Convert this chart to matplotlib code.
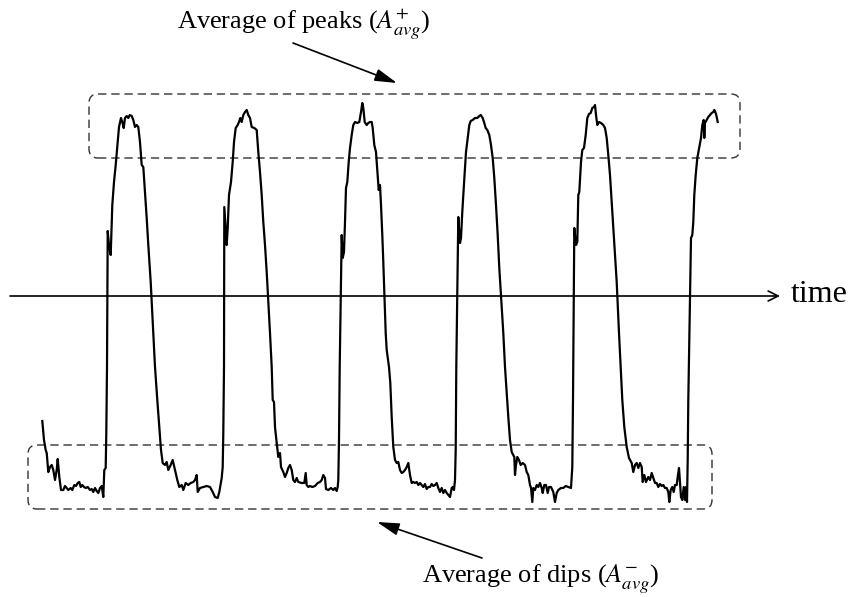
import numpy as np
import matplotlib
matplotlib.use("Agg")
import matplotlib.pyplot as plt
from matplotlib.patches import FancyBboxPatch

plt.rcParams['font.family'] = ['Liberation Serif', 'DejaVu Serif']
plt.rcParams['mathtext.fontset'] = 'stix'

# trace: time (px) and amplitude (px above the time axis)
lead_t = [42.3, 44, 45.7, 46.7, 48.3, 50, 51.7, 53.3, 55, 56.7, 57.7, 59.3, 61, 63.3, 65, 66.7,
          68.3, 70.7, 72.3, 74.3, 76, 77.7, 79.3, 80.7, 82.3, 84, 85.7, 87.7, 90, 91.7, 93.3,
          95, 96.7, 98.3, 100, 101.7, 103.3, 104.3, 105.7, 106.3, 107]
lead_a = [-125, -144, -154, -157, -176, -171, -169, -174, -184, -174, -163, -181, -194, -194, -190, -192,
          -194, -192, -194, -189, -190, -187, -186, -191, -189, -191, -192, -191, -194, -193, -196,
          -192, -195, -197, -192, -190, -201, -174, -172, -137, -71]

p1_t = [107.7, 109, 110.7, 112.3, 114, 115.7, 117.7, 119, 121, 122.3, 123.7, 125, 126.7, 128.3, 129.7,
        131.7, 133.3, 135, 136.7, 138.3, 140, 141.7, 143.3, 145, 146.7, 148.3, 150.7,
        153.3, 155, 157.3, 159.3, 161, 162.7, 165, 166.7, 168.3, 170.7, 172.7, 175, 177.3, 179.3,
        181.7, 183.3, 185.7, 188.3, 190.7, 193.3, 195, 196.7, 197.7, 200, 203.3, 206.7, 210, 212.7,
        215, 217.7, 219.3, 221.7, 222.7, 223.3, 224]
p1_a = [65, 51, 41, 91, 114, 131, 154, 169, 178, 174, 168, 178, 180, 178, 181,
        180, 176, 169, 171, 169, 154, 131, 129, 104, 78, 51, 14,
        -37, -71, -104, -131, -154, -167, -169, -166, -174, -169, -164, -174, -184, -191,
        -189, -194, -187, -189, -187, -186, -184, -179, -196, -192, -191, -190, -191, -196,
        -201, -202, -196, -182, -171, -137, -71]

p2_t = [224.3, 226.7, 227.7, 229, 231, 232.7, 234, 235.7, 237.7, 239, 240.3, 241.7, 243.3, 245, 246.7,
        248.3, 250, 251.7, 254.3, 256.7, 258.3, 260, 261.7, 263.3, 265, 266.7,
        270, 271.7, 272.7, 274, 275, 276.7, 278.3, 280, 281, 283.3, 285, 286.7, 288.3, 290, 291.7,
        293.3, 295, 296.7, 298.3, 301.7, 304.3, 305.7, 306.7, 308.3, 310, 312.3, 315, 317.7, 320,
        321.7, 323.3, 325, 326, 328.3, 331, 333.3, 335, 336.7, 337.7, 338.3, 339, 339.7]
p2_a = [89, 51, 68, 101, 114, 134, 154, 168, 171, 174, 178, 174, 181, 184, 186,
        181, 178, 169, 168, 166, 144, 124, 101, 74, 51, 24,
        -37, -71, -104, -106, -131, -147, -161, -157, -171, -176, -181, -177, -172, -169, -174,
        -184, -186, -182, -186, -187, -187, -177, -189, -191, -190, -191, -190, -187, -186,
        -184, -179, -182, -193, -194, -192, -194, -192, -195, -191, -184, -144, -71]

p3_t = [341.7, 342.7, 344, 345, 346, 347.3, 348.7, 350, 351.7, 353.3, 355, 357.3, 359.3, 361, 362.3,
        363.3, 364.7, 366.7, 368.3, 370, 371.7, 372.7, 374.3, 376, 376.7, 377.7, 378.7, 380, 381,
        382.3, 383.3,
        385.7, 386.7, 389, 390.3, 391.7, 393.3, 395, 396.7, 398.3, 400, 401.7, 403.3, 405, 406.7,
        408.3, 410, 411.7, 413.3, 415, 416.7, 418.3, 420, 421.7, 423.3, 425, 426.7, 428.3, 430,
        431.7, 433.3, 435, 436.7, 438.3, 440, 441.7, 443.3, 445, 446.7, 448.3, 450, 451.7, 452.7,
        454, 455, 455.7, 456.3]
p3_a = [61, 38, 44, 74, 108, 114, 134, 148, 161, 171, 174, 173, 174, 184, 193,
        188, 174, 171, 173, 174, 174, 168, 151, 144, 134, 121, 106, 111, 91,
        61, 34,
        -37, -54, -71, -87, -121, -151, -164, -167, -166, -174, -177, -176, -174, -171,
        -167, -179, -187, -186, -187, -186, -189, -187, -189, -191, -188, -193, -191, -191,
        -188, -190, -189, -187, -192, -196, -192, -197, -194, -197, -199, -201, -192, -191,
        -194, -184, -154, -71]

p4_t = [458.3, 460, 461, 462.3, 463.3, 465, 466, 467.7, 469.3, 470.7, 472.7, 475, 477.3, 479.3, 480.7,
        482.7, 484.3, 485.7, 487.3, 489.3, 491, 492.7, 494.3, 496, 497.7, 499.3,
        503.3, 505, 506.7, 508.3, 510, 511.7, 513.3, 514.3, 515, 516, 517.3, 519, 520.7, 522.7, 525,
        526.7, 528.3, 530, 531, 532.3, 533.3, 535, 536.7, 538.3, 540, 541.7, 542.7, 544.3, 546,
        547.7, 549, 551, 553.3, 555, 556.7, 558.3, 561, 563.3, 565.7, 568.3, 571, 572.3, 573]
p4_a = [79, 53, 58, 84, 101, 128, 144, 158, 171, 175, 176, 178, 178, 180, 181,
        178, 173, 168, 166, 161, 151, 138, 118, 91, 61, 28,
        -37, -71, -97, -121, -144, -156, -159, -161, -179, -169, -161, -164, -169, -167, -169,
        -176, -179, -189, -192, -206, -192, -194, -189, -191, -187, -192, -197, -189, -189,
        -197, -191, -191, -196, -206, -197, -194, -192, -192, -190, -191, -192, -171, -104]

p5_t = [574.3, 576, 577.3, 578.3, 579.3, 581, 582.3, 584, 585.7, 587.3, 589, 590.7, 592.3, 594, 595,
        596, 597.3, 599, 601, 603.3, 605, 606.7, 608.3, 610, 611.7, 613.3, 615, 616.7,
        619, 620.7, 622.3, 624.3, 626.7, 629, 631.7, 633.3, 635, 636.7, 638.3, 640, 641.7, 642.7,
        644.3, 646, 648.3, 650, 651.7, 653.3, 655, 656.7, 658.3, 660, 661.7, 663.3, 665, 666.7,
        668.3, 669.3, 670.7, 672.3, 673.7, 675, 676.7, 677.7, 679, 680, 681, 682.3, 683.7, 685,
        686, 687, 687.7, 688.3]
p5_a = [68, 51, 54, 101, 104, 134, 146, 148, 161, 178, 182, 183, 188, 189, 191,
        181, 171, 174, 173, 171, 168, 158, 141, 121, 94, 68, 41, 14,
        -37, -71, -104, -131, -151, -162, -167, -176, -169, -167, -172, -167, -171, -186,
        -179, -186, -181, -184, -177, -182, -187, -187, -191, -188, -190, -189, -192, -192,
        -196, -206, -194, -191, -196, -189, -189, -181, -172, -187, -201, -204, -191, -204,
        -191, -206, -164, -104]

p6_t = [691, 692.3, 693.3, 694.3, 695.7, 697.3, 699.3, 701, 702.3, 703.7, 704.3, 705, 706.7, 708.3,
        710, 711.7, 713.3, 714.3, 715.7, 716.7, 717.7]
p6_a = [58, 61, 74, 101, 121, 138, 149, 158, 171, 176, 158, 173, 176, 179,
        181, 183, 184, 186, 183, 179, 174]

t = np.concatenate([lead_t, p1_t, p2_t, p3_t, p4_t, p5_t, p6_t])
amp = np.concatenate([lead_a, p1_a, p2_a, p3_a, p4_a, p5_a, p6_a])

peak_box = (89, 138, 651, 64)   # x, y, width, height
dip_box = (28, -213, 684, 64)

fig = plt.figure(figsize=(8.51, 5.97), dpi=100)
ax = fig.add_axes([0, 0, 1, 1])
ax.set_xlim(0, 851)
ax.set_ylim(-301, 296)
ax.axis('off')

# time axis
ax.annotate('', xy=(780, 0), xytext=(10, 0),
            arrowprops=dict(arrowstyle='->', color='black', lw=1.2, mutation_scale=18,
                            shrinkA=0, shrinkB=0))
ax.text(791, 2, 'time', fontsize=23, ha='left', va='center')

ax.plot(t, amp, color='black', lw=1.6, solid_joinstyle='round')

for x, y, w, h in [peak_box, dip_box]:
    box = FancyBboxPatch((x, y), w, h, boxstyle='round,pad=0,rounding_size=9',
                         fill=False, edgecolor='#333333', lw=1.0, linestyle=(0, (6, 3.5)))
    ax.add_patch(box)

ax.annotate('', xy=(397, 213), xytext=(293, 253),
            arrowprops=dict(arrowstyle='-|>,head_length=0.9,head_width=0.25', color='black',
                            lw=1.2, mutation_scale=15, shrinkA=0, shrinkB=0))
ax.annotate('', xy=(377, -226), xytext=(482, -262),
            arrowprops=dict(arrowstyle='-|>,head_length=0.9,head_width=0.25', color='black',
                            lw=1.2, mutation_scale=15, shrinkA=0, shrinkB=0))

ax.text(304, 267, 'Average of peaks ($A^{+}_{avg}$)', fontsize=19, ha='center', va='baseline')
ax.text(541, -287, 'Average of dips ($A^{-}_{avg}$)', fontsize=19, ha='center', va='baseline')

fig.savefig('out.png', dpi=100)
